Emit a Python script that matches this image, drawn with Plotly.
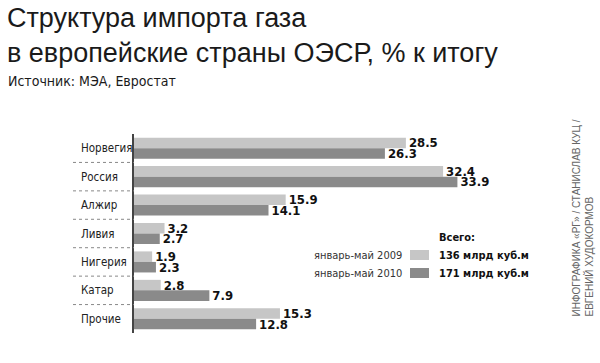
import plotly.graph_objects as go

categories = ["Норвегия", "Россия", "Алжир", "Ливия", "Нигерия", "Катар", "Прочие"]
values_2009 = [28.5, 32.4, 15.9, 3.2, 1.9, 2.8, 15.3]
values_2010 = [26.3, 33.9, 14.1, 2.7, 2.3, 7.9, 12.8]
series_names = ["январь-май 2009", "январь-май 2010"]
totals = ["136 млрд куб.м", "171 млрд куб.м"]

LIGHT = "#c6c6c6"
DARK = "#8a8a8a"
NARROW = "DejaVu Sans Condensed, Liberation Sans Narrow, sans-serif"
REG = "Liberation Sans, Arial, sans-serif"

W, H = 600, 363
L, R, T, B = 134, 40, 134, 30
PW, PH = W - L - R, H - T - B


def px(x):
    return (x - L) / PW


def py(y):
    return (H - B - y) / PH


fig = go.Figure()
for name, vals, col in [(series_names[0], values_2009, LIGHT), (series_names[1], values_2010, DARK)]:
    fig.add_trace(go.Bar(
        y=categories, x=vals, orientation="h", name=name,
        marker=dict(color=col, line=dict(width=0)),
        text=[f"{v:.1f}" for v in vals], textposition="outside",
        constraintext="none",
        textfont=dict(family=NARROW, size=13, color="#111111", weight="bold"),
        cliponaxis=False, showlegend=False, hoverinfo="skip",
    ))

anns = []
shapes = []
# category labels
for c in categories:
    anns.append(dict(x=px(79), y=c, xref="paper", yref="y", text=c, showarrow=False,
                     xanchor="left", yanchor="middle",
                     font=dict(family=NARROW, size=11.5, color="#222222")))
# separators
for i in range(len(categories) - 1):
    shapes.append(dict(type="line", xref="paper", yref="y", x0=px(73), x1=0,
                       y0=i + 0.5, y1=i + 0.5,
                       line=dict(color="#888888", width=1, dash="dot")))

# title
anns.append(dict(x=px(5), y=py(1), xref="paper", yref="paper",
                 text="Структура импорта газа<br>в европейские страны ОЭСР, % к итогу",
                 showarrow=False, xanchor="left", yanchor="top", align="left",
                 font=dict(family=REG, size=27, color="#1a1a1a")))
anns.append(dict(x=px(6), y=py(91), xref="paper", yref="paper",
                 text="Источник: МЭА, Евростат", showarrow=False,
                 xanchor="left", yanchor="bottom",
                 font=dict(family=NARROW, size=14, color="#1a1a1a")))

# legend
anns.append(dict(x=px(437), y=py(237), xref="paper", yref="paper", text="<b>Всего:</b>",
                 showarrow=False, xanchor="left", yanchor="middle",
                 font=dict(family=NARROW, size=11, color="#111111")))
for i, (nm, tot, col) in enumerate(zip(series_names, totals, [LIGHT, DARK])):
    yc = 255 + i * 18
    anns.append(dict(x=px(404), y=py(yc), xref="paper", yref="paper", text=nm,
                     showarrow=False, xanchor="right", yanchor="middle",
                     font=dict(family=NARROW, size=11, color="#333333")))
    shapes.append(dict(type="rect", xref="paper", yref="paper",
                       x0=px(410), x1=px(429), y0=py(yc - 5), y1=py(yc + 5),
                       fillcolor=col, line=dict(width=0)))
    anns.append(dict(x=px(437), y=py(yc), xref="paper", yref="paper", text=f"<b>{tot}</b>",
                     showarrow=False, xanchor="left", yanchor="middle",
                     font=dict(family=NARROW, size=11, color="#111111")))

# credits
anns.append(dict(x=px(582), y=py(319), xref="paper", yref="paper",
                 text="ИНФОГРАФИКА «РГ» / СТАНИСЛАВ КУЦ /<br>ЕВГЕНИЙ ХУДОКОРМОВ",
                 textangle=-90, showarrow=False, xanchor="center", yanchor="bottom",
                 align="left",
                 font=dict(family=REG, size=10, color="#666666")))

fig.update_layout(
    width=W, height=H, margin=dict(l=L, r=R, t=T, b=B),
    paper_bgcolor="white", plot_bgcolor="white",
    barmode="group", bargap=0.26, bargroupgap=0,
    xaxis=dict(range=[0, PW / 9.54], visible=False, fixedrange=True),
    yaxis=dict(autorange="reversed", showticklabels=False, showgrid=False,
               zeroline=False, showline=True, linecolor="#444444", linewidth=2,
               ticks="", fixedrange=True),
    annotations=anns, shapes=shapes,
    font=dict(family=REG),
)
fig.write_html("out.html", config={"displayModeBar": False},
               post_script="document.body.style.margin='0';document.body.style.padding='0';")
